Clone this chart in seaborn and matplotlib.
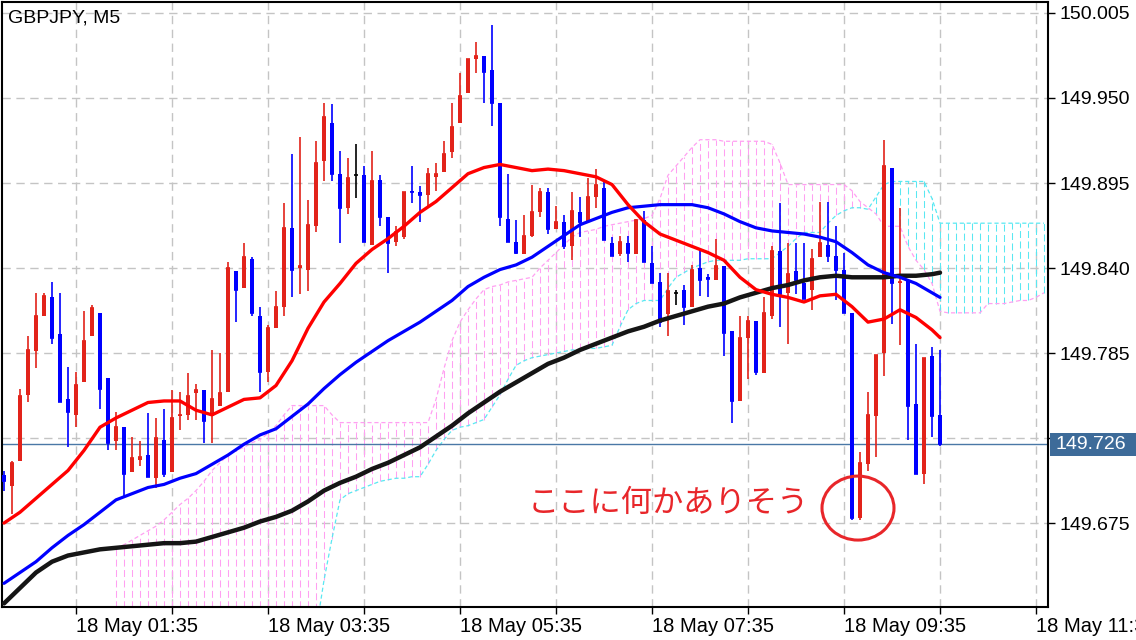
import numpy as np
import pandas as pd
import matplotlib
matplotlib.use("Agg")
import matplotlib.pyplot as plt
import seaborn as sns
from matplotlib.patches import Ellipse, Rectangle
from matplotlib.transforms import blended_transform_factory

# ---------------- data ----------------
bar_idx = list(range(118))
opens = [149.706, 149.699, 149.715, 149.758, 149.786, 149.809, 149.821, 149.797, 149.755, 149.745,
         149.766, 149.796, 149.811, 149.769, 149.728, 149.737, 149.708, 149.716, 149.719, 149.704,
         149.729, 149.708, 149.744, 149.745, 149.759, 149.761, 149.744, 149.751, 149.760, 149.838,
         149.827, 149.846, 149.809, 149.773, 149.801, 149.815, 149.866, 149.840, 149.839, 149.867,
         149.909, 149.934, 149.901, 149.879, 149.900, 149.900, 149.855, 149.897, 149.873, 149.857,
         149.860, 149.890, 149.889, 149.887, 149.899, 149.902, 149.915, 149.934, 149.953, 149.975,
         149.977, 149.968, 149.947, 149.872, 149.857, 149.849, 149.861, 149.876, 149.889, 149.865,
         149.870, 149.854, 149.876, 149.870, 149.886, 149.892, 149.856, 149.849, 149.856, 149.849,
         149.871, 149.843, 149.831, 149.810, 149.824, 149.826, 149.815, 149.840, 149.834, 149.832,
         149.841, 149.799, 149.754, 149.795, 149.806, 149.772, 149.809, 149.851, 149.824, 149.838,
         149.830, 149.826, 149.847, 149.855, 149.848, 149.839, 149.811, 149.678, 149.713, 149.744,
         149.785, 149.905, 149.830, 149.832, 149.752, 149.707, 149.783, 149.745]
highs = [149.709, 149.715, 149.762, 149.796, 149.824, 149.824, 149.831, 149.824, 149.776, 149.773,
         149.812, 149.816, 149.811, 149.769, 149.747, 149.737, 149.731, 149.728, 149.746, 149.743,
         149.749, 149.761, 149.760, 149.772, 149.765, 149.761, 149.787, 149.785, 149.844, 149.838,
         149.856, 149.847, 149.815, 149.803, 149.825, 149.882, 149.914, 149.925, 149.884, 149.922,
         149.947, 149.946, 149.916, 149.911, 149.920, 149.906, 149.916, 149.900, 149.873, 149.867,
         149.889, 149.906, 149.893, 149.905, 149.908, 149.922, 149.947, 149.966, 149.975, 149.986,
         149.977, 149.997, 149.947, 149.901, 149.871, 149.874, 149.894, 149.892, 149.892, 149.880,
         149.874, 149.889, 149.886, 149.898, 149.904, 149.896, 149.860, 149.861, 149.861, 149.872,
         149.877, 149.854, 149.837, 149.837, 149.826, 149.829, 149.842, 149.852, 149.836, 149.859,
         149.841, 149.799, 149.809, 149.809, 149.806, 149.821, 149.854, 149.882, 149.856, 149.856,
         149.856, 149.852, 149.883, 149.883, 149.867, 149.850, 149.811, 149.721, 149.760, 149.784,
         149.923, 149.905, 149.879, 149.832, 149.791, 149.782, 149.789, 149.787]
lows = [149.696, 149.681, 149.715, 149.753, 149.775, 149.809, 149.791, 149.753, 149.724, 149.737,
        149.766, 149.796, 149.749, 149.722, 149.722, 149.692, 149.708, 149.712, 149.705, 149.698,
        149.705, 149.708, 149.735, 149.742, 149.742, 149.727, 149.727, 149.751, 149.760, 149.805,
        149.827, 149.809, 149.760, 149.766, 149.801, 149.809, 149.821, 149.823, 149.825, 149.863,
        149.896, 149.896, 149.856, 149.875, 149.885, 149.857, 149.855, 149.867, 149.837, 149.854,
        149.859, 149.882, 149.870, 149.879, 149.890, 149.902, 149.911, 149.934, 149.953, 149.966,
        149.947, 149.932, 149.867, 149.857, 149.849, 149.849, 149.860, 149.873, 149.862, 149.865,
        149.852, 149.845, 149.860, 149.870, 149.879, 149.858, 149.848, 149.848, 149.844, 149.849,
        149.844, 149.830, 149.802, 149.796, 149.816, 149.803, 149.815, 149.822, 149.821, 149.832,
        149.783, 149.740, 149.754, 149.768, 149.771, 149.772, 149.807, 149.802, 149.791, 149.823,
        149.820, 149.813, 149.847, 149.844, 149.819, 149.811, 149.677, 149.677, 149.709, 149.718,
        149.770, 149.804, 149.790, 149.729, 149.707, 149.700, 149.731, 149.725]
closes = [149.702, 149.714, 149.757, 149.787, 149.809, 149.822, 149.795, 149.753, 149.747, 149.764,
          149.793, 149.814, 149.762, 149.727, 149.737, 149.707, 149.717, 149.718, 149.705, 149.730,
          149.707, 149.743, 149.745, 149.757, 149.761, 149.741, 149.755, 149.759, 149.840, 149.826,
          149.847, 149.811, 149.773, 149.801, 149.815, 149.866, 149.839, 149.841, 149.868, 149.908,
          149.938, 149.901, 149.879, 149.898, 149.900, 149.857, 149.896, 149.873, 149.856, 149.863,
          149.889, 149.889, 149.887, 149.901, 149.901, 149.914, 149.931, 149.951, 149.975, 149.977,
          149.967, 149.947, 149.873, 149.857, 149.850, 149.861, 149.876, 149.889, 149.865, 149.870,
          149.854, 149.877, 149.870, 149.886, 149.894, 149.858, 149.848, 149.857, 149.850, 149.871,
          149.844, 149.830, 149.805, 149.825, 149.824, 149.815, 149.839, 149.832, 149.833, 149.841,
          149.798, 149.754, 149.795, 149.806, 149.773, 149.811, 149.851, 149.823, 149.836, 149.832,
          149.820, 149.846, 149.856, 149.848, 149.839, 149.811, 149.678, 149.714, 149.745, 149.784,
          149.906, 149.830, 149.831, 149.751, 149.707, 149.782, 149.744, 149.726]

ma_bars = list(range(0, 117, 2)) + [117]
ma_red = [149.675, 149.682, 149.691, 149.700, 149.709, 149.722, 149.737, 149.743, 149.748, 149.753,
          149.754, 149.754, 149.748, 149.745, 149.750, 149.755, 149.756, 149.764, 149.780, 149.801,
          149.818, 149.830, 149.843, 149.852, 149.859, 149.867, 149.876, 149.883, 149.892, 149.901,
          149.905, 149.907, 149.905, 149.903, 149.904, 149.903, 149.901, 149.899, 149.894, 149.881,
          149.870, 149.862, 149.858, 149.854, 149.850, 149.845, 149.834, 149.826, 149.823, 149.821,
          149.818, 149.822, 149.823, 149.815, 149.805, 149.807, 149.813, 149.808, 149.800, 149.795]
ma_blue = [149.636, 149.643, 149.650, 149.659, 149.667, 149.674, 149.682, 149.690, 149.694, 149.698,
           149.700, 149.704, 149.707, 149.713, 149.719, 149.726, 149.732, 149.736, 149.744, 149.752,
           149.762, 149.771, 149.779, 149.786, 149.793, 149.799, 149.805, 149.812, 149.819, 149.828,
           149.834, 149.839, 149.842, 149.847, 149.854, 149.861, 149.868, 149.872, 149.876, 149.879,
           149.880, 149.881, 149.881, 149.881, 149.879, 149.875, 149.870, 149.866, 149.864, 149.863,
           149.862, 149.860, 149.857, 149.850, 149.842, 149.837, 149.834, 149.830, 149.824, 149.821]
ma_black = [149.623, 149.633, 149.643, 149.650, 149.654, 149.656, 149.658, 149.659, 149.660, 149.661,
            149.662, 149.662, 149.663, 149.666, 149.669, 149.672, 149.676, 149.679, 149.683, 149.689,
            149.696, 149.701, 149.705, 149.710, 149.714, 149.719, 149.724, 149.731, 149.738, 149.746,
            149.753, 149.760, 149.766, 149.772, 149.778, 149.782, 149.787, 149.791, 149.795, 149.799,
            149.802, 149.806, 149.809, 149.812, 149.815, 149.817, 149.821, 149.824, 149.827, 149.829,
            149.832, 149.834, 149.835, 149.834, 149.834, 149.834, 149.835, 149.835, 149.836, 149.837]

cloud_bars = list(range(14, 131))
span_a = ([149.600] * 20 +
          [149.600, 149.600, 149.600, 149.600, 149.600, 149.605, 149.638, 149.665, 149.690, 149.694,
           149.696, 149.698, 149.700, 149.702, 149.703, 149.704, 149.704, 149.705, 149.705, 149.713,
           149.722, 149.729, 149.735, 149.737, 149.738, 149.740, 149.742, 149.750, 149.758, 149.768,
           149.777, 149.780, 149.782, 149.783, 149.784, 149.785, 149.786, 149.787, 149.787, 149.788,
           149.788, 149.789, 149.790, 149.802, 149.813, 149.817, 149.819, 149.819, 149.819, 149.827,
           149.834, 149.837, 149.840, 149.842, 149.844, 149.845, 149.845, 149.845, 149.845, 149.846,
           149.846, 149.846, 149.846, 149.850, 149.854, 149.859, 149.863, 149.863, 149.863, 149.869,
           149.874, 149.877, 149.879, 149.879, 149.878, 149.886, 149.894, 149.896, 149.896, 149.896,
           149.896, 149.896, 149.885, 149.869, 149.869, 149.869, 149.869, 149.869, 149.869, 149.869,
           149.869, 149.869, 149.869, 149.869, 149.869, 149.869, 149.869])
span_b = [149.659, 149.661, 149.664, 149.667, 149.670, 149.673, 149.677, 149.682, 149.687, 149.691,
          149.696, 149.702, 149.709, 149.714, 149.719, 149.722, 149.724, 149.727, 149.729, 149.733,
          149.738, 149.745, 149.751, 149.751, 149.751, 149.751, 149.751, 149.745, 149.740, 149.740,
          149.740, 149.740, 149.740, 149.740, 149.740, 149.740, 149.740, 149.740, 149.740, 149.740,
          149.755, 149.775, 149.793, 149.805, 149.813, 149.820, 149.826, 149.828, 149.829, 149.831,
          149.832, 149.833, 149.834, 149.840, 149.845, 149.850, 149.855, 149.860, 149.863, 149.864,
          149.865, 149.867, 149.868, 149.869, 149.870, 149.871, 149.872, 149.874, 149.885, 149.900,
          149.906, 149.912, 149.918, 149.923, 149.923, 149.923, 149.922, 149.922, 149.922, 149.922,
          149.922, 149.922, 149.920, 149.908, 149.894, 149.894, 149.894, 149.894, 149.894, 149.894,
          149.894, 149.894, 149.890, 149.883, 149.879, 149.875, 149.867, 149.867, 149.867, 149.854,
          149.845, 149.839, 149.830, 149.812, 149.811, 149.811, 149.811, 149.811, 149.811, 149.817,
          149.817, 149.817, 149.818, 149.819, 149.819, 149.821, 149.824]

price_ticks = [150.005, 149.950, 149.895, 149.840, 149.785, 149.730, 149.675]
time_tick_bars = [9, 33, 57, 81, 105, 129]
time_labels = ["18 May 01:35", "18 May 03:35", "18 May 05:35",
               "18 May 07:35", "18 May 09:35", "18 May 11:35"]
last_price = 149.726
symbol_label = "GBPJPY, M5"
note_text = "ここに何かありそう"

# ---------------- style ----------------
sns.set_theme(style="white")
plt.rcParams["font.family"] = ["Liberation Sans", "DejaVu Sans"]
plt.rcParams["lines.scale_dashes"] = False

RED = "#e2231a"
BLUE = "#0000ff"
PINK = "#ffa0f2"
CYAN = "#5ae8f2"
GRID = "#c4c4c4"
XLIM = (-0.25, 130.5)
YLIM = (149.6207, 150.0121)

W, H = 1136, 640
fig = plt.figure(figsize=(W / 100, H / 100), dpi=100, facecolor="white")
ax = fig.add_axes([2 / W, 1 - 607 / H, 1046 / W, 605 / H])
ax.set_facecolor("white")

# grid
for p in price_ticks:
    ax.axhline(p, color=GRID, lw=1.0, dashes=(6, 4), zorder=0.5)
for b in range(9, 131, 12):
    ax.axvline(b, color=GRID, lw=1.0, dashes=(6, 4), zorder=0.5)

# ichimoku cloud
cloud = pd.DataFrame({"k": cloud_bars, "a": span_a, "b": span_b})
for _, r in cloud.iterrows():
    col = PINK if r.b >= r.a else CYAN
    ax.vlines(r.k, min(r.a, r.b), max(r.a, r.b), colors=col, lw=0.75,
              linestyles=(0, (5, 2.5)), zorder=1)
sns.lineplot(data=cloud, x="k", y="a", ax=ax, color=CYAN, lw=0.9,
             estimator=None, sort=False, zorder=1.2).lines[-1].set_dashes((3, 2))
sns.lineplot(data=cloud, x="k", y="b", ax=ax, color=PINK, lw=0.9,
             estimator=None, sort=False, zorder=1.2).lines[-1].set_dashes((3, 2))

# price line
ax.axhline(last_price, color="#4a78a6", lw=1.0, zorder=2)

# candles
df = pd.DataFrame({"k": bar_idx, "o": opens, "h": highs, "l": lows, "c": closes})
cols = np.where(df.c > df.o, RED, np.where(df.c < df.o, BLUE, "#000000"))
ax.vlines(df.k, df.l, df.h, colors=cols, lw=1.2, zorder=3)
ax.bar(df.k, (df.c - df.o).abs(), bottom=np.minimum(df.o, df.c), width=0.62,
       color=cols, linewidth=0, zorder=3)
ax.hlines(df.c, df.k - 0.31, df.k + 0.31, colors=cols, lw=1.2, zorder=3)

# moving averages
ma = pd.DataFrame({"k": ma_bars, "red": ma_red, "blue": ma_blue, "black": ma_black})
sns.lineplot(data=ma, x="k", y="black", ax=ax, color="#151515", lw=3.2,
             estimator=None, sort=False, zorder=4)
sns.lineplot(data=ma, x="k", y="blue", ax=ax, color="#0000ff", lw=2.3,
             estimator=None, sort=False, zorder=4)
sns.lineplot(data=ma, x="k", y="red", ax=ax, color="#ff0000", lw=2.4,
             estimator=None, sort=False, zorder=4)

# axes: ticks and labels
ax.set_xlabel("")
ax.set_ylabel("")
ax.yaxis.tick_right()
ax.set_yticks(price_ticks)
ax.set_yticklabels(["" if abs(p - 149.730) < 1e-6 else f"{p:.3f}" for p in price_ticks])
minor_bars = list(range(9, 131, 12))
ax.set_xticks(minor_bars)
lbl = dict(zip(time_tick_bars, time_labels))
ax.set_xticklabels([lbl.get(b, "") for b in minor_bars])
for t in ax.get_xticklabels():
    t.set_horizontalalignment("left")
ax.tick_params(axis="y", which="both", direction="out", length=5, width=1,
               color="black", labelsize=14, pad=3, labelcolor="black", right=True, left=False)
ax.tick_params(axis="x", which="both", direction="out", length=5, width=1,
               color="black", labelsize=14.5, pad=2, labelcolor="black", bottom=True)
for s in ax.spines.values():
    s.set_color("black")
    s.set_linewidth(1.5)

# current price box
tr = blended_transform_factory(ax.transAxes, ax.transData)
ax.add_patch(Rectangle((1.002, last_price - 0.0075), 0.1, 0.015, transform=tr,
                       facecolor="#3d6b99", edgecolor="none", clip_on=False, zorder=10))
ax.text(1.0075, last_price, f"{last_price:.3f}", transform=tr, ha="left", va="center",
        color="white", fontsize=14, clip_on=False, zorder=11)

# symbol label
fig.text(8 / W, 1 - 18 / H, symbol_label, ha="left", va="center", fontsize=14, color="black")

# annotation
ax.text(65.5, 149.688, note_text, color="#e8262a", fontsize=22.5, ha="left", va="center",
        family=["Noto Sans CJK JP", "DejaVu Sans"], zorder=12)
ax.add_patch(Ellipse((106.75, 149.6847), width=9.0, height=0.0414, fill=False,
                     edgecolor="#e8262a", lw=2.2, zorder=12))

ax.set_xlim(*XLIM)
ax.set_ylim(*YLIM)
fig.savefig("out.png", dpi=100, facecolor="white")
